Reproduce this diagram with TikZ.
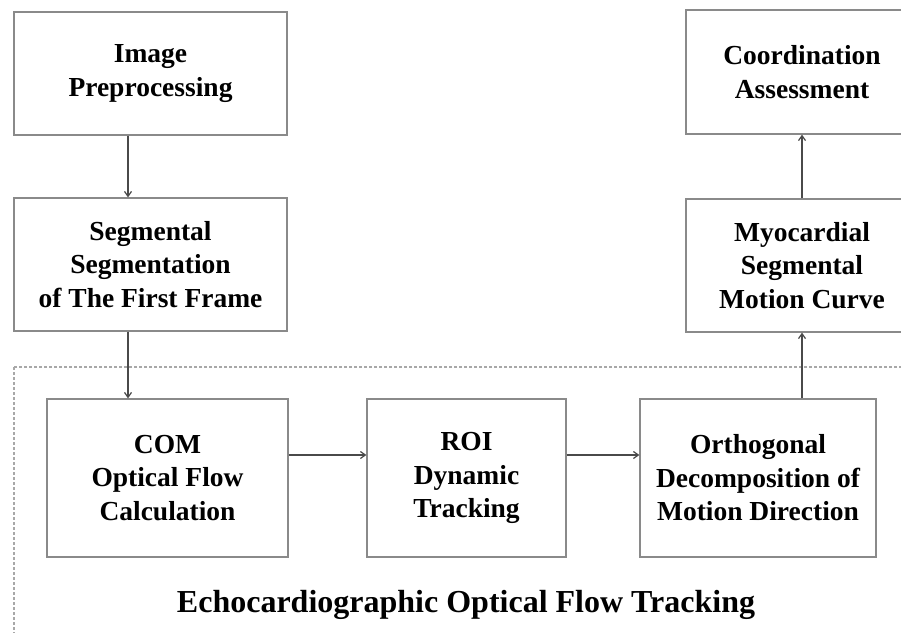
\documentclass[tikz,border=0pt]{standalone}
\usepackage{fontspec}
\setmainfont{Liberation Serif}
\usetikzlibrary{arrows.meta}
\definecolor{boxgray}{HTML}{8A8A8A}
\definecolor{arrgray}{HTML}{4A4A4A}
\definecolor{dashgray}{HTML}{A8A8A8}
\begin{document}
\begin{tikzpicture}[x=1pt,y=-1pt,
  stepbox/.style={draw=boxgray,line width=1.2pt,align=center,inner sep=0pt,
    font=\bfseries\fontsize{27.5}{33.5}\selectfont,text=black},
  arr/.style={draw=arrgray,line width=1.2pt,-{Straight Barb[length=5pt,width=7pt]}}]
\useasboundingbox (0,0) rectangle (901,632);
\clip (0,0) rectangle (901,632);
\fill[white] (0,0) rectangle (901,632);
\draw[dashgray,line width=1.1pt,dash pattern=on 3pt off 2pt] (14,367) rectangle (930,660);
\node[stepbox,minimum width=273pt,minimum height=123pt] (pre) at (150.5,73.5) {Image\\Preprocessing};
\node[stepbox,minimum width=273pt,minimum height=133pt] (seg) at (150.5,264.5) {Segmental\\Segmentation\\of The First Frame};
\node[stepbox,minimum width=241pt,minimum height=158pt] (com) at (167.5,478) {COM\\Optical Flow\\Calculation};
\node[stepbox,minimum width=199pt,minimum height=158pt] (roi) at (466.5,478) {ROI\\Dynamic\\Tracking};
\node[stepbox,minimum width=236pt,minimum height=158pt] (orth) at (758,478) {Orthogonal\\Decomposition of\\Motion Direction};
\node[stepbox,minimum width=232pt,minimum height=133pt] (myo) at (802,265.5) {Myocardial\\Segmental\\Motion Curve};
\node[stepbox,minimum width=232pt,minimum height=124pt] (coord) at (802,72) {Coordination\\Assessment};
\node[font=\bfseries\fontsize{32}{38}\selectfont,anchor=base,inner sep=0pt] (title) at (466,612) {Echocardiographic Optical Flow Tracking};
\coordinate (vx) at (128,0);
\coordinate (hy) at (0,455);
\coordinate (rx) at (802,0);
\draw[arr] (pre.south -| vx) -- (seg.north -| vx);
\draw[arr] (seg.south -| vx) -- (com.north -| vx);
\draw[arr] (com.east |- hy) -- (roi.west |- hy);
\draw[arr] (roi.east |- hy) -- (orth.west |- hy);
\draw[arr] (orth.north -| rx) -- (myo.south -| rx);
\draw[arr] (myo.north -| rx) -- (coord.south -| rx);
\end{tikzpicture}
\end{document}
